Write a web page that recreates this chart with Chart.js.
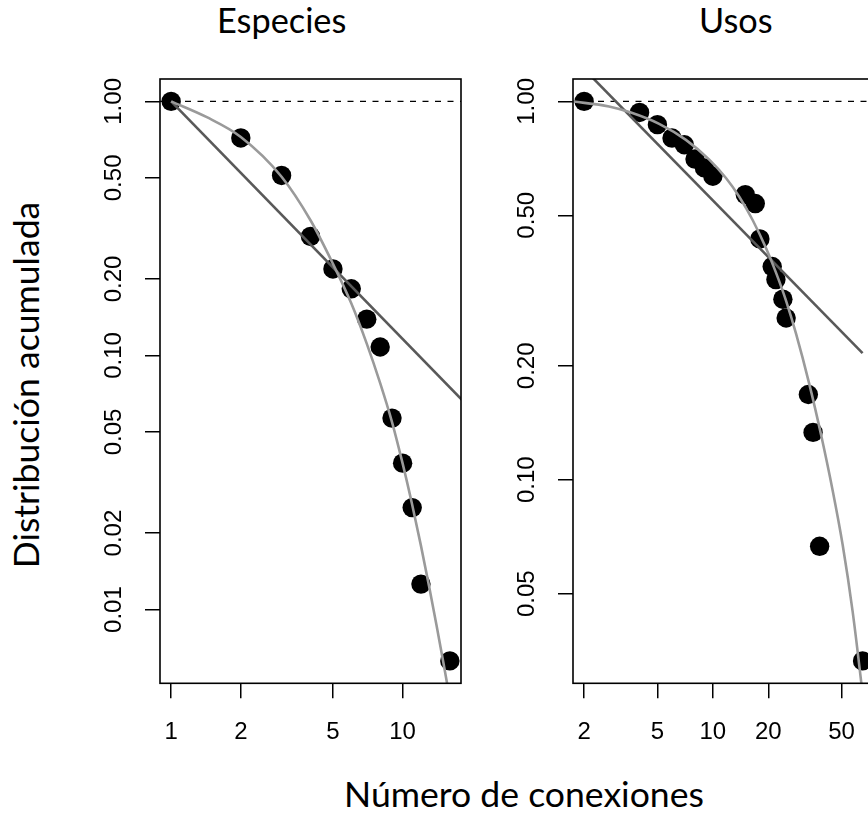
<!DOCTYPE html>
<html>
<head>
<meta charset="UTF-8">
<title>Distribución acumulada</title>
<script src="https://cdn.jsdelivr.net/npm/chart.js@4/dist/chart.umd.min.js"></script>
<style>
  html, body { margin: 0; padding: 0; background: #fff; }
  body { width: 868px; height: 820px; overflow: hidden; position: relative; }
  canvas { position: absolute; top: 0; }
  .lbl { position: absolute; font-family: Lato, "Open Sans", sans-serif;
         line-height: 1; white-space: nowrap; color: #000; }
  .tit { font-size: 34.3px; top: 2.9px; transform: translateX(-50%); }
  .eje { font-size: 35.6px; }
</style>
</head>
<body>
<div class="lbl tit" style="left:281.7px">Especies</div>
<div class="lbl tit" style="left:735.8px">Usos</div>
<div class="lbl eje" style="left:524px; top:776.4px; transform:translateX(-50%)">Número de conexiones</div>
<div class="lbl eje" style="left:26.2px; top:385px; transform:translate(-50%,-50%) rotate(-90deg)">Distribución acumulada</div>

<canvas id="cEspecies" width="421" height="820" style="left:60px"></canvas>
<canvas id="cUsos" width="421" height="820" style="left:473px"></canvas>

<script>
// --- Especies: numero de conexiones vs distribucion acumulada
const especiesK = [1, 2, 3, 4, 5, 6, 7, 8, 9, 10, 11, 12, 16];
const especiesP = [1, 0.718, 0.511, 0.294, 0.219, 0.183, 0.139, 0.108, 0.0567, 0.0377, 0.0252, 0.0126, 0.00628];
// ajuste potencial (recta en log-log)
const especiesRectaK = [1, 20];
const especiesRectaP = [1, 0.0607];
// ajuste con corte (curva gris)
const especiesCurvaK = [1, 1.426, 2, 3, 4, 5, 6, 7, 8, 9, 10, 11, 12, 13, 14, 15, 16];
const especiesCurvaP = [1, 0.8664, 0.7243, 0.5052, 0.3405, 0.2296, 0.1604, 0.1113, 0.0778, 0.0547, 0.0376,
                        0.02586, 0.01785, 0.01242, 0.00872, 0.00619, 0.00445];
const especiesTicksX = [1, 2, 5, 10];
const especiesTicksY = [0.01, 0.02, 0.05, 0.10, 0.20, 0.50, 1.00];

// --- Usos
const usosK = [2, 4, 5, 6, 7, 8, 9, 10, 15, 17, 18, 21, 22, 24, 25, 33, 35, 38, 65];
const usosP = [1, 0.935, 0.868, 0.800, 0.768, 0.704, 0.667, 0.634, 0.567, 0.537, 0.433, 0.366, 0.338, 0.300,
               0.2676, 0.168, 0.1334, 0.0667, 0.0332];
const usosRectaK = [2, 65];
const usosRectaP = [1.217, 0.216];
const usosCurvaK = [1.72, 2.73, 3.59, 5.11, 7.14, 9.56, 11.78, 13.91, 16.44, 19.43, 22.02, 24.96, 28.29, 33.4,
                    38.66, 44.7, 50.7, 57.4, 63.8, 66.5];
const usosCurvaP = [1.0, 0.9694, 0.9341, 0.872, 0.7911, 0.7014, 0.6271, 0.5598, 0.4859, 0.4095, 0.3527, 0.2974,
                    0.2433, 0.179, 0.1317, 0.0938, 0.0672, 0.0449, 0.0294, 0.0245];
const usosTicksX = [2, 5, 10, 20, 50];
const usosTicksY = [0.05, 0.10, 0.20, 0.50, 1.00];

const nivelRef = 1; // linea discontinua horizontal

const pts = (xs, ys) => xs.map((x, i) => ({x: x, y: ys[i]}));

// rango como en R: 4% extra a cada lado (en log)
function rango(vals) {
    const lo = Math.min(...vals), hi = Math.max(...vals);
    const r = Math.log10(hi / lo) * 0.04;
    return [lo / Math.pow(10, r), hi * Math.pow(10, r)];
}

const marco = {
    id: 'marco',
    beforeDatasetsDraw(chart) {
        const {ctx, chartArea: a, scales} = chart;
        const py = scales.y.getPixelForValue(nivelRef);
        ctx.save();
        ctx.strokeStyle = '#000';
        ctx.lineWidth = 1.3;
        ctx.setLineDash([6, 6.5]);
        ctx.beginPath();
        ctx.moveTo(a.left, py);
        ctx.lineTo(a.right, py);
        ctx.stroke();
        ctx.restore();
    },
    afterDraw(chart) {
        const {ctx, chartArea: a} = chart;
        ctx.save();
        ctx.strokeStyle = '#000';
        ctx.lineWidth = 1.6;
        ctx.strokeRect(a.left, a.top, a.right - a.left, a.bottom - a.top);
        ctx.restore();
    }
};

const fuenteTicks = {family: 'Arial, Helvetica, sans-serif', size: 24};

function panel(id, k, p, rk, rp, ck, cp, ticksX, ticksY, padRight) {
    const [xmin, xmax] = rango(k);
    const [ymin, ymax] = rango(p);
    const marcas = {display: true, drawOnChartArea: false, drawTicks: true, tickLength: 15, color: '#000', lineWidth: 1.5};
    return new Chart(document.getElementById(id), {
        type: 'scatter',
        data: {
            datasets: [
                {data: pts(k, p), showLine: false, pointRadius: 9.7, pointBackgroundColor: '#000', pointBorderWidth: 0, order: 3},
                {data: pts(rk, rp), showLine: true, pointRadius: 0, borderColor: '#595959', borderWidth: 2.6, order: 2},
                {data: pts(ck, cp), showLine: true, pointRadius: 0, borderColor: '#9a9a9a', borderWidth: 2.6,
                 cubicInterpolationMode: 'monotone', order: 1}
            ]
        },
        options: {
            responsive: false,
            animation: false,
            events: [],
            layout: {padding: {top: 79, bottom: 76.7, left: 0, right: padRight}},
            plugins: {legend: {display: false}, tooltip: {enabled: false}},
            scales: {
                x: {
                    type: 'logarithmic', min: xmin, max: xmax,
                    afterBuildTicks: s => { s.ticks = ticksX.map(v => ({value: v})); },
                    afterFit: s => { s.height = 60; },
                    grid: marcas,
                    border: {display: false},
                    ticks: {autoSkip: false, maxRotation: 0, padding: 19.3, color: '#000', font: fuenteTicks,
                            callback: v => String(v)}
                },
                y: {
                    type: 'logarithmic', min: ymin, max: ymax,
                    afterBuildTicks: s => { s.ticks = ticksY.map(v => ({value: v})); },
                    afterFit: s => { s.width = 100; },
                    grid: marcas,
                    border: {display: false},
                    ticks: {autoSkip: false, minRotation: 90, maxRotation: 90, crossAlign: 'center', padding: 7.6,
                            color: '#000', font: fuenteTicks, callback: v => Number(v).toFixed(2)}
                }
            }
        },
        plugins: [marco]
    });
}

panel('cEspecies', especiesK, especiesP, especiesRectaK, especiesRectaP, especiesCurvaK, especiesCurvaP,
      especiesTicksX, especiesTicksY, 20);
panel('cUsos', usosK, usosP, usosRectaK, usosRectaP, usosCurvaK, usosCurvaP,
      usosTicksX, usosTicksY, 20.3);
</script>
</body>
</html>
